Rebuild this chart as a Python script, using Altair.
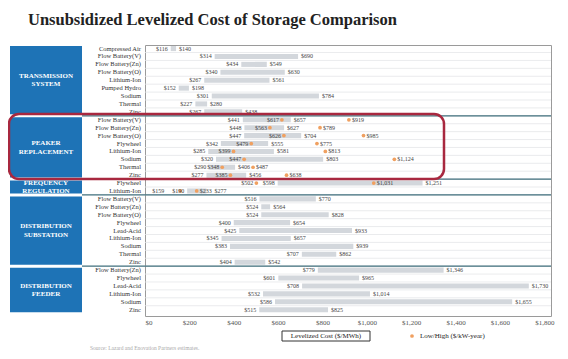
import altair as alt
import pandas as pd

# ---------------- data ----------------
group_names = ["TRANSMISSION\nSYSTEM", "PEAKER\nREPLACEMENT", "FREQUENCY\nREGULATION",
               "DISTRIBUTION\nSUBSTATION", "DISTRIBUTION\nFEEDER"]

trans_tech = ["Compressed Air", "Flow Battery(V)", "Flow Battery(Zn)", "Flow Battery(O)",
              "Lithium-Ion", "Pumped Hydro", "Sodium", "Thermal", "Zinc"]
trans_low = [116, 314, 434, 340, 267, 152, 301, 227, 267]
trans_high = [140, 690, 549, 630, 561, 198, 784, 280, 438]

peak_tech = ["Flow Battery(V)", "Flow Battery(Zn)", "Flow Battery(O)", "Flywheel",
             "Lithium-Ion", "Sodium", "Thermal", "Zinc"]
peak_low = [441, 448, 447, 342, 285, 320, 290, 277]
peak_high = [657, 627, 704, 555, 581, 803, 406, 456]
peak_kw_low = [617, 563, 626, 479, 399, 447, 348, 385]
peak_kw_high = [919, 789, 985, 775, 813, 1124, 487, 638]

freq_tech = ["Flywheel", "Lithium-Ion"]
freq_low = [598, 190]
freq_high = [1251, 277]
freq_kw_low = [502, 159]
freq_kw_high = [1031, 233]

sub_tech = ["Flow Battery(V)", "Flow Battery(Zn)", "Flow Battery(O)", "Flywheel", "Lead-Acid",
            "Lithium-Ion", "Sodium", "Thermal", "Zinc"]
sub_low = [516, 524, 524, 400, 425, 345, 383, 707, 404]
sub_high = [770, 564, 828, 654, 933, 657, 939, 862, 542]

feed_tech = ["Flow Battery(Zn)", "Flywheel", "Lead-Acid", "Lithium-Ion", "Sodium", "Zinc"]
feed_low = [779, 601, 708, 532, 586, 515]
feed_high = [1346, 965, 1730, 1014, 1655, 825]

x_ticks = [0, 200, 400, 600, 800, 1000, 1200, 1400, 1600, 1800]

title_text = "Unsubsidized Levelized Cost of Storage Comparison"
legend_bar_text = "Levelized Cost ($/MWh)"
legend_dot_text = "Low/High ($/kW-year)"
source_text = "Source: Lazard and Enovation Partners estimates."

# ---------------- tables ----------------
def money(v):
    return "$" + format(v, ",")

blocks = [
    (group_names[0], trans_tech, trans_low, trans_high, None, None),
    (group_names[1], peak_tech, peak_low, peak_high, peak_kw_low, peak_kw_high),
    (group_names[2], freq_tech, freq_low, freq_high, freq_kw_low, freq_kw_high),
    (group_names[3], sub_tech, sub_low, sub_high, None, None),
    (group_names[4], feed_tech, feed_low, feed_high, None, None),
]

# label nudges (pixels) for crowded rows: (group index, row, value) -> dx
nudges = {(2, 1, 159): -16, (2, 1, 233): 3, (2, 1, 277): 8}

rows, dots, labels, groups = [], [], [], []
idx = 0
for gi, (gname, tech, lo, hi, klo, khi) in enumerate(blocks):
    start = idx
    for i, t in enumerate(tech):
        rows.append({"idx": idx, "name": t, "lo": lo[i], "hi": hi[i],
                     "y0": idx - 0.32, "y1": idx + 0.32})
        items = [(lo[i], "L"), (hi[i], "R")]
        if klo is not None:
            dots.append({"idx": idx, "x": klo[i]})
            dots.append({"idx": idx, "x": khi[i]})
            items += [(klo[i], "L"), (khi[i], "R")]
        for v, side in items:
            dx = nudges.get((gi, i, v), -3 if side == "L" else 3)
            labels.append({"idx": idx, "x": v, "text": money(v), "side": side, "dx": dx})
        idx += 1
    groups.append({"g": gname, "top": start - 0.5, "bot": idx - 0.5, "mid": (start + idx - 1) / 2})

rows_df = pd.DataFrame(rows)
dots_df = pd.DataFrame(dots)
lab_df = pd.DataFrame(labels)
grp_df = pd.DataFrame(groups)
n_rows = idx
grid_df = pd.DataFrame({"b": [i + 0.5 for i in range(n_rows - 1)]})
sep_df = grp_df.iloc[:-1][["bot"]].rename(columns={"bot": "b"})

FONT = "Liberation Serif"
W, H = 406, 271

xs = alt.Scale(domain=[0, 1830], nice=False, zero=False)
ys = alt.Scale(domain=[-0.45, n_rows - 0.2], reverse=True, nice=False, zero=False)

xenc = alt.X("lo:Q", scale=xs,
             axis=alt.Axis(values=x_ticks, labelExpr="'$' + format(datum.value, ',')",
                           title=None, grid=False, ticks=False, domain=False,
                           labelFont=FONT, labelFontSize=7, labelColor="#555", labelPadding=2))

grid = alt.Chart(grid_df).mark_rule(color="#e4e6e8", strokeWidth=0.8).encode(
    y=alt.Y("b:Q", scale=ys, axis=None), x=alt.value(0), x2=alt.value(W))

boxes = alt.Chart(grp_df).mark_rect(color="#1e73b6", yOffset=1.5, y2Offset=-1.5).encode(
    y=alt.Y("top:Q", scale=ys, axis=None), y2="bot:Q",
    x=alt.value(-135), x2=alt.value(-63))

box_text = alt.Chart(grp_df).mark_text(font=FONT, fontSize=7, fontWeight="bold", color="white",
                                       lineBreak="\n", align="center", baseline="middle",
                                       lineHeight=8.5, dy=-4.25).encode(
    y=alt.Y("mid:Q", scale=ys, axis=None), x=alt.value(-99), text="g:N")

seps = alt.Chart(sep_df).mark_rule(color="#3f6f7c", strokeWidth=1.2).encode(
    y=alt.Y("b:Q", scale=ys, axis=None), x=alt.value(-63), x2=alt.value(W))

bars = alt.Chart(rows_df).mark_rect(color="#d3d7dc").encode(
    x=xenc, x2="hi:Q",
    y=alt.Y("y0:Q", scale=ys, axis=None), y2="y1:Q")

names = alt.Chart(rows_df).mark_text(font=FONT, fontSize=6.5, color="#333", align="right",
                                     baseline="middle").encode(
    y=alt.Y("idx:Q", scale=ys, axis=None), x=alt.value(-4), text="name:N")

pts = alt.Chart(dots_df).mark_circle(color="#f0a060", size=14, opacity=1).encode(
    x=alt.X("x:Q", scale=xs), y=alt.Y("idx:Q", scale=ys, axis=None))

label_layers = []
for (side, dx), sub in lab_df.groupby(["side", "dx"]):
    label_layers.append(
        alt.Chart(sub.reset_index(drop=True)).mark_text(
            font=FONT, fontSize=6, color="#444", align="right" if side == "L" else "left",
            baseline="middle", dx=float(dx)).encode(
            x=alt.X("x:Q", scale=xs), y=alt.Y("idx:Q", scale=ys, axis=None), text="text:N"))

one = pd.DataFrame({"a": [0]})
highlight = alt.Chart(one).mark_rect(fillOpacity=0, stroke="#a8283f", strokeWidth=2.5,
                                     cornerRadius=10).encode(
    x=alt.value(-136), x2=alt.value(299), y=alt.value(69), y2=alt.value(134))

title = alt.Chart(one).mark_text(font=FONT, fontSize=16.5, fontWeight="bold", color="#222",
                                 align="left", baseline="alphabetic").encode(
    x=alt.value(-117), y=alt.value(-20), text=alt.value(title_text))

leg_box = alt.Chart(one).mark_rect(fill="white", stroke="#333", strokeWidth=1).encode(
    x=alt.value(137), x2=alt.value(225), y=alt.value(286), y2=alt.value(296))
leg_box_text = alt.Chart(one).mark_text(font=FONT, fontSize=7, color="#222", align="center",
                                        baseline="middle").encode(
    x=alt.value(181), y=alt.value(291), text=alt.value(legend_bar_text))
leg_dot = alt.Chart(one).mark_circle(color="#f0a060", size=14, opacity=1).encode(
    x=alt.value(267), y=alt.value(291))
leg_dot_text = alt.Chart(one).mark_text(font=FONT, fontSize=7, color="#222", align="left",
                                        baseline="middle").encode(
    x=alt.value(275), y=alt.value(291), text=alt.value(legend_dot_text))
source = alt.Chart(one).mark_text(font=FONT, fontSize=5.5, color="#aaa", align="left",
                                  baseline="middle").encode(
    x=alt.value(-55), y=alt.value(303), text=alt.value(source_text))

chart = alt.layer(
    grid, boxes, box_text, seps, bars, pts, *label_layers, names, highlight, title,
    leg_box, leg_box_text, leg_dot, leg_dot_text, source
).properties(
    width=W, height=H,
    autosize=alt.AutoSizeParams(type="none"),
    padding={"left": 137, "top": 37, "right": 9, "bottom": 43},
    background="white",
).configure_view(stroke="#9a9a9a", strokeWidth=1)

chart.save("out.html", embed_options={"renderer": "svg", "actions": False})
